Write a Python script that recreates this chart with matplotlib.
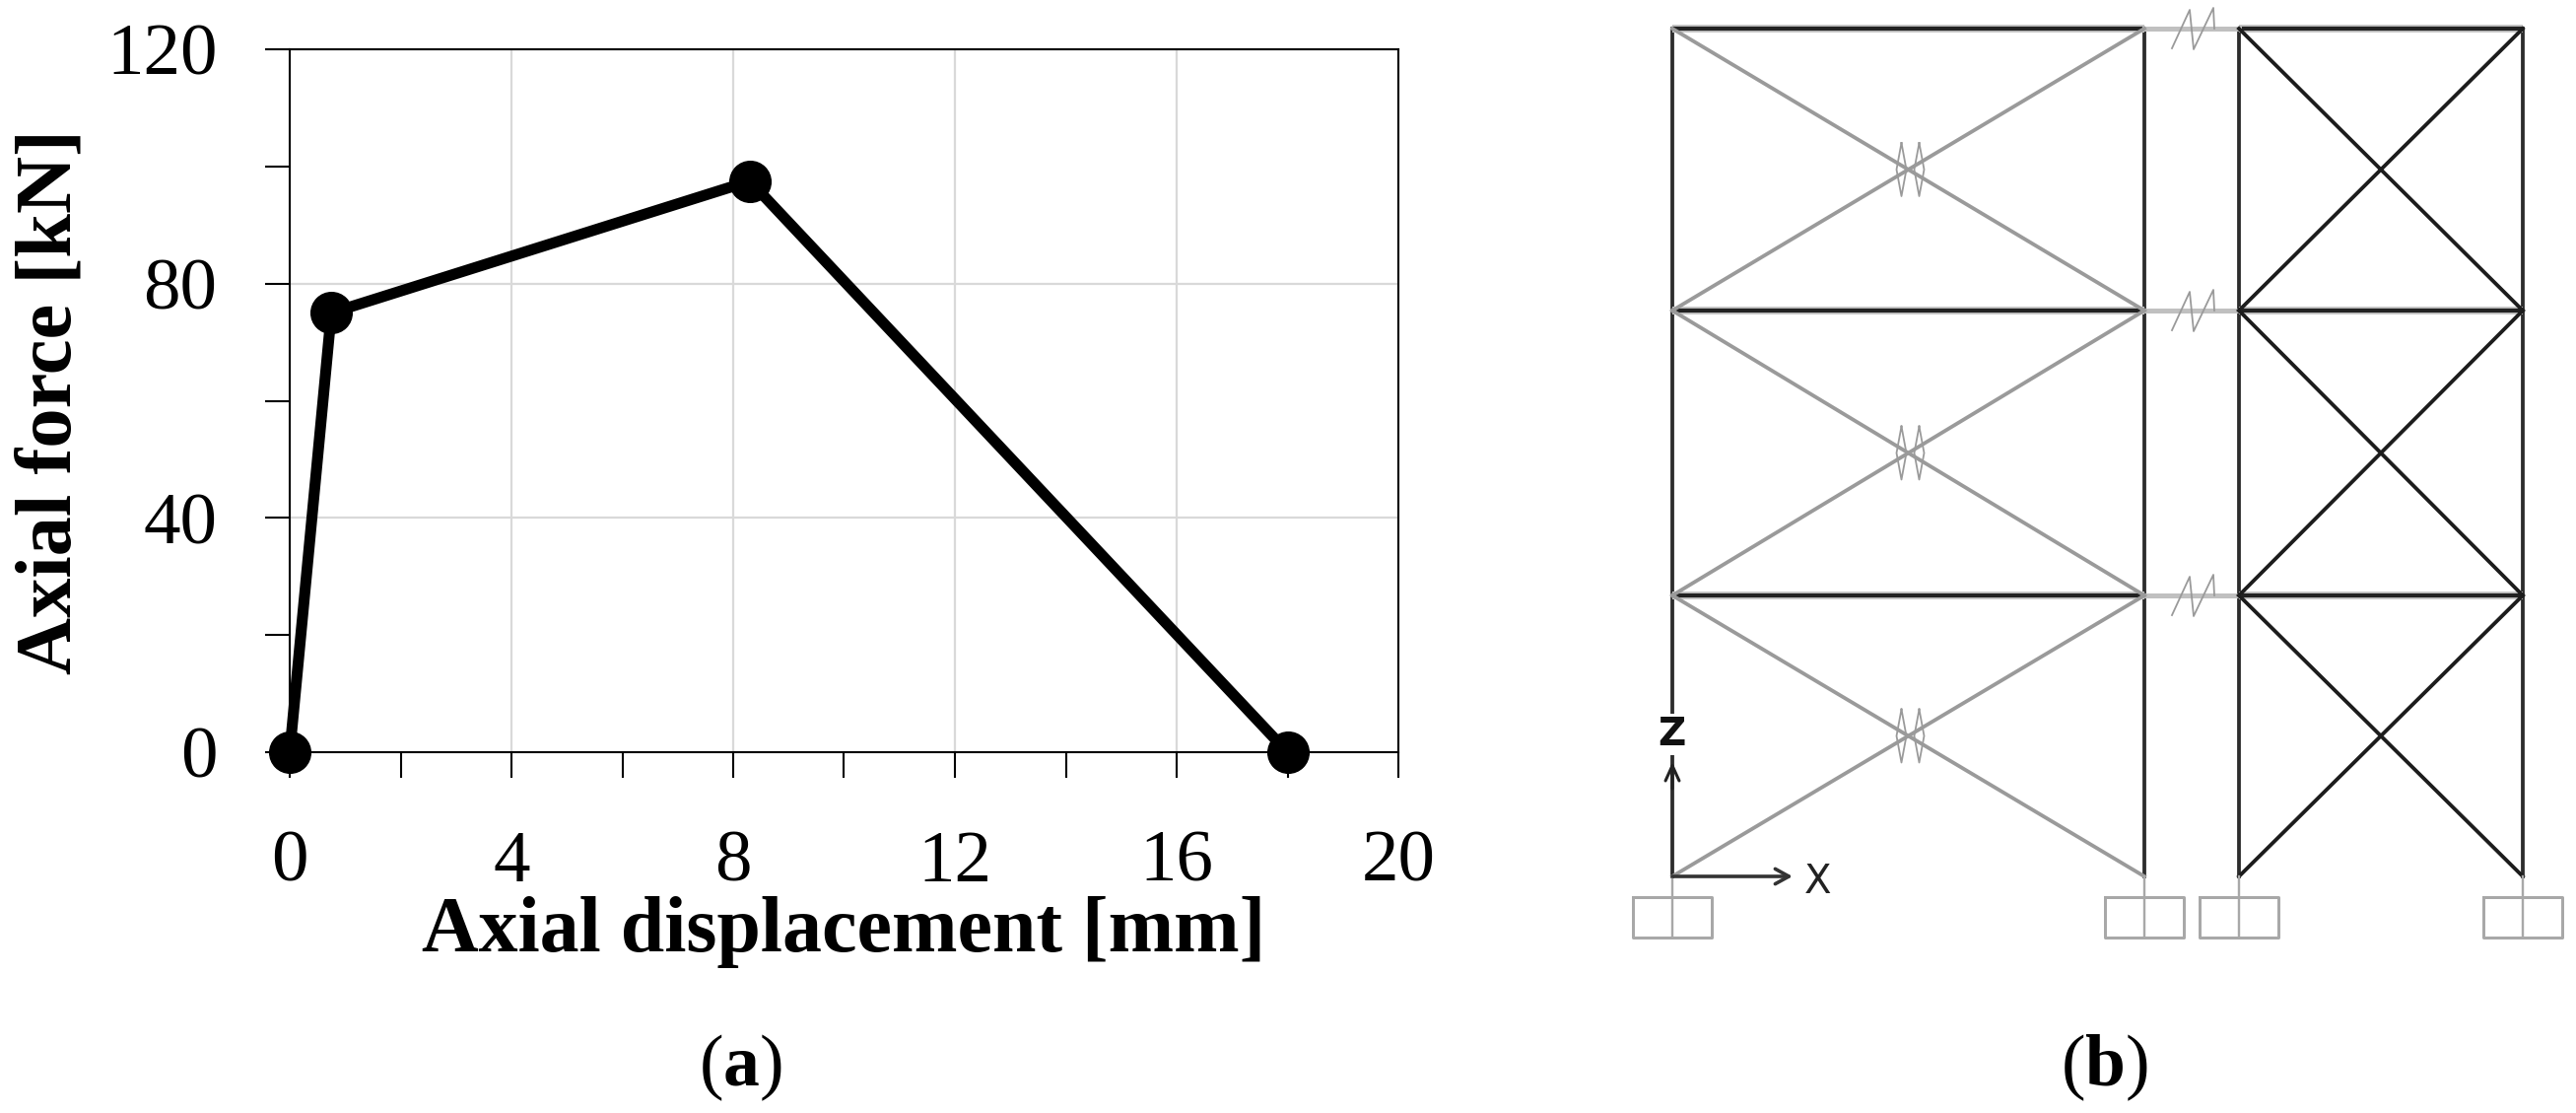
import matplotlib
matplotlib.use("Agg")
import matplotlib.pyplot as plt

plt.rcParams['font.family'] = ['Liberation Serif', 'DejaVu Serif']
plt.rcParams['mathtext.fontset'] = 'custom'
plt.rcParams['mathtext.rm'] = 'Liberation Serif'
plt.rcParams['mathtext.bf'] = 'Liberation Serif:bold'

# ---- panel (a) data
displacement = [0, 0.75, 8.3, 18]
force = [0, 75, 97.5, 0]
x_major = [0, 4, 8, 12, 16, 20]
x_minor = [2, 6, 10, 14, 18]
y_major = [0, 40, 80, 120]
y_minor = [20, 60, 100]
x_label = "Axial displacement [mm]"
y_label = "Axial force [kN]"

# ---- panel (b) schematic geometry (reference pixels)
col_left = [1697, 2176]
col_right = [2272, 2560]
floors = [29, 315, 604]
base = 889
support_bottom = 951
support_top = 910
support_half = 40
break_x = 2226

W, H = 2614, 1129
fig = plt.figure(figsize=(W / 100, H / 100), dpi=100, facecolor='white')

# ---- panel (a)
L, R, T, B = 294, 1419, 50, 763
ax = fig.add_axes([L / W, 1 - B / H, (R - L) / W, (B - T) / H])
ax.set_xlim(0, 20)
ax.set_ylim(0, 120)
ax.set_xticks(x_major)
ax.set_xticks(x_minor, minor=True)
ax.set_yticks(y_major)
ax.set_yticks(y_minor, minor=True)
ax.grid(True, which='major', color='#d9d9d9', lw=1.6)
ax.set_axisbelow(True)
for s in ax.spines.values():
    s.set_linewidth(1.5)
ax.tick_params(axis='x', which='major', length=19, width=1.5, pad=38, labelsize=54)
ax.tick_params(axis='x', which='minor', length=19, width=1.5)
ax.tick_params(axis='y', which='major', length=18, width=1.5, pad=35, labelsize=54)
ax.tick_params(axis='y', which='minor', length=18, width=1.5)
ax.plot(displacement, force, color='black', lw=8, marker='o', ms=30,
        mfc='black', mec='black', clip_on=False, zorder=5, solid_joinstyle='miter')

fig.text(856 / W, 1 - 945 / H, x_label, ha='center', va='center', fontsize=57.5,
         fontweight='bold')
fig.text(52 / W, 1 - 408 / H, y_label, ha='center', va='center', rotation=90,
         fontsize=58, fontweight='bold')
fig.text(751 / W, 1 - 1083 / H, r"($\mathbf{a}$)", ha='center', va='center', fontsize=53)
fig.text(2135 / W, 1 - 1083 / H, r"($\mathbf{b}$)", ha='center', va='center', fontsize=53)

# ---- panel (b) on a pixel-scale overlay
ov = fig.add_axes([0, 0, 1, 1])
ov.set_xlim(0, W)
ov.set_ylim(H, 0)
ov.axis('off')
ov.patch.set_alpha(0)

dark = '#2c2c2c'
grey = '#9a9a9a'
lw_px = 0.72

levels = floors + [base]
# columns
for x in col_left + col_right:
    ov.plot([x, x], [floors[0], base], color=dark, lw=3.8 * lw_px)
# beams
for y in floors:
    for a, b in (col_left, col_right):
        ov.plot([a, b], [y, y], color='#c8c8c8', lw=8 * lw_px, solid_capstyle='butt')
        ov.plot([a, b], [y, y], color='#222222', lw=4.2 * lw_px, solid_capstyle='butt')
    ov.plot([col_left[1], col_right[0]], [y, y], color='#c0c0c0', lw=5 * lw_px)
    ov.plot([break_x - 22, break_x - 4, break_x, break_x + 20, break_x + 21],
            [y + 20, y - 19, y + 21, y - 21, y],
            color=grey, lw=1.8 * lw_px)
# bracing
for top, bot in zip(levels[:-1], levels[1:]):
    a, b = col_left
    ov.plot([a, b], [top, bot], color=grey, lw=3.8 * lw_px)
    ov.plot([a, b], [bot, top], color=grey, lw=3.8 * lw_px)
    a, b = col_right
    ov.plot([a, b], [top, bot], color='#1c1c1c', lw=3.8 * lw_px)
    ov.plot([a, b], [bot, top], color='#1c1c1c', lw=3.8 * lw_px)
    # out-of-plane break marks at the brace crossing
    cx, cy = (col_left[0] + col_left[1]) / 2 - 1, (top + bot) / 2
    for o in (-6, 12):
        ov.plot([cx + o, cx + o - 5, cx + o, cx + o + 5, cx + o],
                [cy - 27, cy, cy + 27, cy, cy - 27], color=grey, lw=1.8 * lw_px)
# supports
for x in [col_left[0], col_left[1], col_right[0], col_right[1]]:
    ov.plot([x, x], [base, support_bottom], color='#a8a8a8', lw=2.4 * lw_px)
    ov.plot([x - support_half, x + support_half, x + support_half, x - support_half, x - support_half],
            [support_top, support_top, support_bottom, support_bottom, support_top],
            color='#a8a8a8', lw=3 * lw_px)
# global axes
ov.annotate('', xy=(1819, base), xytext=(col_left[0], base),
            arrowprops=dict(arrowstyle='->,head_length=1.0,head_width=0.55', color='#333333', lw=2.6,
                            shrinkA=0, shrinkB=0))
ov.annotate('', xy=(col_left[0], 773), xytext=(col_left[0], 800),
            arrowprops=dict(arrowstyle='->,head_length=1.1,head_width=0.5', color='#222222', lw=2.2,
                            shrinkA=0, shrinkB=0))
ov.text(1845, 895, 'X', ha='center', va='center', fontsize=29, family='DejaVu Sans',
        color='#222222')
ov.text(1696, 745, 'Z', ha='center', va='center', fontsize=28, family='DejaVu Sans',
        fontweight='bold', color='#111111',
        bbox=dict(facecolor='white', edgecolor='none', pad=1))

fig.savefig('out.png', dpi=100)
